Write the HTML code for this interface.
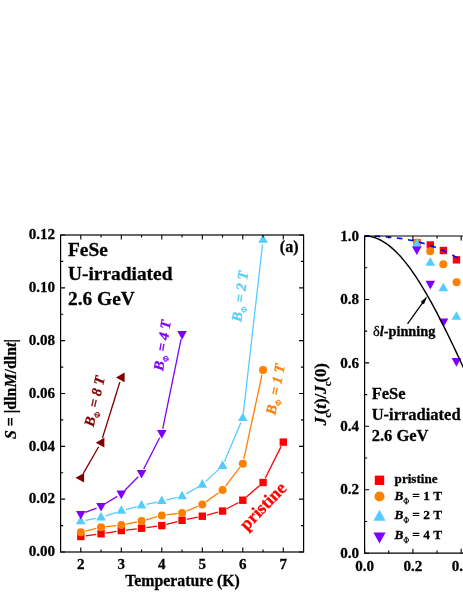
<!DOCTYPE html>
<html><head><meta charset="utf-8"><title>chart</title>
<style>html,body{margin:0;padding:0;background:#fff}svg{display:block;will-change:transform}text{stroke:currentColor;stroke-width:0.28px;paint-order:stroke}</style></head>
<body><svg width="463" height="599" viewBox="0 0 463 599" font-family="Liberation Serif, serif" font-weight="bold">
<rect width="463" height="599" fill="#fff"/>
<clipPath id="ca"><rect x="60.6" y="229.0" width="243.00000000000003" height="323.0"/></clipPath>
<g clip-path="url(#ca)">
<line x1="85.56" y1="535.85" x2="96.29" y2="534.41" stroke="#ff0000" stroke-width="1.3"/>
<line x1="105.79" y1="533.03" x2="116.56" y2="531.34" stroke="#ff0000" stroke-width="1.3"/>
<line x1="126.07" y1="530.04" x2="136.78" y2="528.78" stroke="#ff0000" stroke-width="1.3"/>
<line x1="146.31" y1="527.60" x2="157.04" y2="526.20" stroke="#ff0000" stroke-width="1.3"/>
<line x1="166.44" y1="524.37" x2="177.41" y2="521.51" stroke="#ff0000" stroke-width="1.3"/>
<line x1="186.75" y1="519.35" x2="197.60" y2="517.16" stroke="#ff0000" stroke-width="1.3"/>
<line x1="206.95" y1="515.02" x2="217.90" y2="512.24" stroke="#ff0000" stroke-width="1.3"/>
<line x1="226.78" y1="508.79" x2="238.57" y2="502.49" stroke="#ff0000" stroke-width="1.3"/>
<line x1="246.41" y1="497.06" x2="259.44" y2="485.68" stroke="#ff0000" stroke-width="1.3"/>
<line x1="265.20" y1="478.23" x2="281.15" y2="446.40" stroke="#ff0000" stroke-width="1.3"/>
<rect x="77.10" y="532.79" width="7.40" height="7.40" fill="#ff0000"/>
<rect x="97.35" y="530.07" width="7.40" height="7.40" fill="#ff0000"/>
<rect x="117.60" y="526.90" width="7.40" height="7.40" fill="#ff0000"/>
<rect x="137.85" y="524.52" width="7.40" height="7.40" fill="#ff0000"/>
<rect x="158.10" y="521.88" width="7.40" height="7.40" fill="#ff0000"/>
<rect x="178.35" y="516.60" width="7.40" height="7.40" fill="#ff0000"/>
<rect x="198.60" y="512.51" width="7.40" height="7.40" fill="#ff0000"/>
<rect x="218.85" y="507.35" width="7.40" height="7.40" fill="#ff0000"/>
<rect x="239.10" y="496.52" width="7.40" height="7.40" fill="#ff0000"/>
<rect x="259.35" y="478.82" width="7.40" height="7.40" fill="#ff0000"/>
<rect x="279.60" y="438.41" width="7.40" height="7.40" fill="#ff0000"/>
<line x1="85.46" y1="531.03" x2="96.39" y2="528.32" stroke="#ff8000" stroke-width="1.3"/>
<line x1="105.82" y1="526.67" x2="116.53" y2="525.55" stroke="#ff8000" stroke-width="1.3"/>
<line x1="126.01" y1="524.13" x2="136.84" y2="522.01" stroke="#ff8000" stroke-width="1.3"/>
<line x1="146.17" y1="519.80" x2="157.18" y2="516.71" stroke="#ff8000" stroke-width="1.3"/>
<line x1="166.56" y1="514.82" x2="177.29" y2="513.49" stroke="#ff8000" stroke-width="1.3"/>
<line x1="186.48" y1="511.05" x2="197.87" y2="506.30" stroke="#ff8000" stroke-width="1.3"/>
<line x1="206.20" y1="501.65" x2="218.65" y2="492.72" stroke="#ff8000" stroke-width="1.3"/>
<line x1="225.48" y1="486.12" x2="239.87" y2="467.44" stroke="#ff8000" stroke-width="1.3"/>
<line x1="243.81" y1="458.94" x2="262.04" y2="374.68" stroke="#ff8000" stroke-width="1.3"/>
<circle cx="80.80" cy="532.19" r="4.00" fill="#ff8000"/>
<circle cx="101.05" cy="527.17" r="4.00" fill="#ff8000"/>
<circle cx="121.30" cy="525.05" r="4.00" fill="#ff8000"/>
<circle cx="141.55" cy="521.09" r="4.00" fill="#ff8000"/>
<circle cx="161.80" cy="515.41" r="4.00" fill="#ff8000"/>
<circle cx="182.05" cy="512.90" r="4.00" fill="#ff8000"/>
<circle cx="202.30" cy="504.45" r="4.00" fill="#ff8000"/>
<circle cx="222.55" cy="489.92" r="4.00" fill="#ff8000"/>
<circle cx="242.80" cy="463.64" r="4.00" fill="#ff8000"/>
<circle cx="263.05" cy="369.99" r="4.00" fill="#ff8000"/>
<line x1="85.51" y1="520.43" x2="96.34" y2="518.32" stroke="#55ccff" stroke-width="1.3"/>
<line x1="105.61" y1="515.91" x2="116.74" y2="512.28" stroke="#55ccff" stroke-width="1.3"/>
<line x1="125.94" y1="509.58" x2="136.91" y2="506.72" stroke="#55ccff" stroke-width="1.3"/>
<line x1="146.24" y1="504.47" x2="157.11" y2="502.06" stroke="#55ccff" stroke-width="1.3"/>
<line x1="166.47" y1="499.92" x2="177.38" y2="497.36" stroke="#55ccff" stroke-width="1.3"/>
<line x1="186.21" y1="493.87" x2="198.14" y2="487.03" stroke="#55ccff" stroke-width="1.3"/>
<line x1="205.82" y1="481.38" x2="219.03" y2="469.14" stroke="#55ccff" stroke-width="1.3"/>
<line x1="224.42" y1="461.46" x2="240.93" y2="422.49" stroke="#55ccff" stroke-width="1.3"/>
<line x1="243.34" y1="413.30" x2="262.51" y2="244.52" stroke="#55ccff" stroke-width="1.3"/>
<path d="M76.00 524.36L85.60 524.36L80.80 515.76Z" fill="#55ccff"/>
<path d="M96.25 520.39L105.85 520.39L101.05 511.79Z" fill="#55ccff"/>
<path d="M116.50 513.79L126.10 513.79L121.30 505.19Z" fill="#55ccff"/>
<path d="M136.75 508.51L146.35 508.51L141.55 499.91Z" fill="#55ccff"/>
<path d="M157.00 504.02L166.60 504.02L161.80 495.42Z" fill="#55ccff"/>
<path d="M177.25 499.26L186.85 499.26L182.05 490.66Z" fill="#55ccff"/>
<path d="M197.50 487.64L207.10 487.64L202.30 479.04Z" fill="#55ccff"/>
<path d="M217.75 468.88L227.35 468.88L222.55 460.28Z" fill="#55ccff"/>
<path d="M238.00 421.07L247.60 421.07L242.80 412.47Z" fill="#55ccff"/>
<path d="M258.25 242.75L267.85 242.75L263.05 234.16Z" fill="#55ccff"/>
<line x1="85.27" y1="512.47" x2="96.58" y2="508.05" stroke="#8000ff" stroke-width="1.3"/>
<line x1="105.14" y1="503.79" x2="117.21" y2="496.39" stroke="#8000ff" stroke-width="1.3"/>
<line x1="124.66" y1="490.46" x2="138.19" y2="476.70" stroke="#8000ff" stroke-width="1.3"/>
<line x1="143.72" y1="469.00" x2="159.63" y2="437.67" stroke="#8000ff" stroke-width="1.3"/>
<line x1="162.76" y1="428.69" x2="181.09" y2="339.03" stroke="#8000ff" stroke-width="1.3"/>
<path d="M76.00 510.92L85.60 510.92L80.80 519.52Z" fill="#8000ff"/>
<path d="M96.25 503.00L105.85 503.00L101.05 511.60Z" fill="#8000ff"/>
<path d="M116.50 490.58L126.10 490.58L121.30 499.18Z" fill="#8000ff"/>
<path d="M136.75 469.98L146.35 469.98L141.55 478.58Z" fill="#8000ff"/>
<path d="M157.00 430.09L166.60 430.09L161.80 438.69Z" fill="#8000ff"/>
<path d="M177.25 331.03L186.85 331.03L182.05 339.63Z" fill="#8000ff"/>
<line x1="83.20" y1="473.61" x2="98.65" y2="446.79" stroke="#800000" stroke-width="1.3"/>
<line x1="102.47" y1="438.05" x2="119.88" y2="381.97" stroke="#800000" stroke-width="1.3"/>
<path d="M84.10 472.97L84.10 482.57L75.50 477.77Z" fill="#800000"/>
<path d="M104.35 437.83L104.35 447.44L95.75 442.63Z" fill="#800000"/>
<path d="M124.60 372.59L124.60 382.19L116.00 377.39Z" fill="#800000"/>
</g>
<rect x="60.6" y="235.0" width="243.00000000000003" height="317.0" fill="none" stroke="#000" stroke-width="1.2"/>
<path d="M60.6 552.00h4.5M303.6 552.00h-4.5M60.6 525.58h2.6M303.6 525.58h-2.6M60.6 499.17h4.5M303.6 499.17h-4.5M60.6 472.75h2.6M303.6 472.75h-2.6M60.6 446.33h4.5M303.6 446.33h-4.5M60.6 419.92h2.6M303.6 419.92h-2.6M60.6 393.50h4.5M303.6 393.50h-4.5M60.6 367.08h2.6M303.6 367.08h-2.6M60.6 340.67h4.5M303.6 340.67h-4.5M60.6 314.25h2.6M303.6 314.25h-2.6M60.6 287.83h4.5M303.6 287.83h-4.5M60.6 261.42h2.6M303.6 261.42h-2.6M60.6 235.00h4.5M303.6 235.00h-4.5M80.80 552.0v-4.5M80.80 235.0v4.5M101.05 552.0v-2.6M101.05 235.0v2.6M121.30 552.0v-4.5M121.30 235.0v4.5M141.55 552.0v-2.6M141.55 235.0v2.6M161.80 552.0v-4.5M161.80 235.0v4.5M182.05 552.0v-2.6M182.05 235.0v2.6M202.30 552.0v-4.5M202.30 235.0v4.5M222.55 552.0v-2.6M222.55 235.0v2.6M242.80 552.0v-4.5M242.80 235.0v4.5M263.05 552.0v-2.6M263.05 235.0v2.6M283.30 552.0v-4.5M283.30 235.0v4.5" stroke="#000" stroke-width="1.1" fill="none"/>
<text x="55.1" y="556.20" font-size="15.1" text-anchor="end">0.00</text>
<text x="55.1" y="503.37" font-size="15.1" text-anchor="end">0.02</text>
<text x="55.1" y="450.53" font-size="15.1" text-anchor="end">0.04</text>
<text x="55.1" y="397.70" font-size="15.1" text-anchor="end">0.06</text>
<text x="55.1" y="344.87" font-size="15.1" text-anchor="end">0.08</text>
<text x="55.1" y="292.03" font-size="15.1" text-anchor="end">0.10</text>
<text x="55.1" y="239.20" font-size="15.1" text-anchor="end">0.12</text>
<text x="80.80" y="568.6" font-size="15.1" text-anchor="middle">2</text>
<text x="121.30" y="568.6" font-size="15.1" text-anchor="middle">3</text>
<text x="161.80" y="568.6" font-size="15.1" text-anchor="middle">4</text>
<text x="202.30" y="568.6" font-size="15.1" text-anchor="middle">5</text>
<text x="242.80" y="568.6" font-size="15.1" text-anchor="middle">6</text>
<text x="283.30" y="568.6" font-size="15.1" text-anchor="middle">7</text>
<text x="182.5" y="585.6" font-size="15.8" text-anchor="middle">Temperature (K)</text>
<text transform="translate(15.6,389) rotate(-90)" font-size="15.9" text-anchor="middle"><tspan font-style="italic">S</tspan> = |dln<tspan font-style="italic">M</tspan>/dln<tspan font-style="italic">t</tspan>|</text>
<text x="68.0" y="255.7" font-size="19.4">FeSe</text>
<text x="68.0" y="280.3" font-size="19.4">U-irradiated</text>
<text x="68.0" y="304.9" font-size="19.4">2.6 GeV</text>
<text x="298.5" y="252" font-size="16" text-anchor="end">(a)</text>
<text transform="translate(99.2,402.3) rotate(-77)" font-size="14.5" font-style="italic" fill="#800000" color="#800000" text-anchor="middle">B<tspan font-size="8.4" dy="3.6" font-style="normal" font-weight="normal">Φ</tspan><tspan dy="-3.6"> = 8 T</tspan></text>
<text transform="translate(167.0,346.1) rotate(-81)" font-size="14.5" font-style="italic" fill="#8000ff" color="#8000ff" text-anchor="middle">B<tspan font-size="8.4" dy="3.6" font-style="normal" font-weight="normal">Φ</tspan><tspan dy="-3.6"> = 4 T</tspan></text>
<text transform="translate(244.8,296.9) rotate(-82)" font-size="14.5" font-style="italic" fill="#55ccff" color="#55ccff" text-anchor="middle">B<tspan font-size="8.4" dy="3.6" font-style="normal" font-weight="normal">Φ</tspan><tspan dy="-3.6"> = 2 T</tspan></text>
<text transform="translate(280.1,390.1) rotate(-79)" font-size="14.5" font-style="italic" fill="#ff8000" color="#ff8000" text-anchor="middle">B<tspan font-size="8.4" dy="3.6" font-style="normal" font-weight="normal">Φ</tspan><tspan dy="-3.6"> = 1 T</tspan></text>
<text transform="translate(267.1,510.1) rotate(-46)" font-size="17.9" fill="#ff0000" color="#ff0000" text-anchor="middle">pristine</text>
<clipPath id="cb"><rect x="364.6" y="234.0" width="98.39999999999998" height="319.20000000000005"/></clipPath>
<g clip-path="url(#cb)">
<rect x="413.30" y="239.00" width="7.40" height="7.40" fill="#ff0000"/>
<rect x="426.60" y="241.30" width="7.40" height="7.40" fill="#ff0000"/>
<rect x="439.70" y="246.80" width="7.40" height="7.40" fill="#ff0000"/>
<rect x="452.80" y="256.10" width="7.40" height="7.40" fill="#ff0000"/>
<circle cx="416.90" cy="242.60" r="4.00" fill="#ff8000"/>
<circle cx="430.20" cy="251.30" r="4.00" fill="#ff8000"/>
<circle cx="443.30" cy="264.30" r="4.00" fill="#ff8000"/>
<circle cx="456.60" cy="282.20" r="4.00" fill="#ff8000"/>
<path d="M412.00 247.10L421.60 247.10L416.80 238.50Z" fill="#55ccff"/>
<path d="M425.50 265.80L435.10 265.80L430.30 257.20Z" fill="#55ccff"/>
<path d="M438.50 291.30L448.10 291.30L443.30 282.70Z" fill="#55ccff"/>
<path d="M451.60 319.85L461.20 319.85L456.40 311.25Z" fill="#55ccff"/>
<path d="M412.00 246.50L421.60 246.50L416.80 255.10Z" fill="#8000ff"/>
<path d="M425.50 280.80L435.10 280.80L430.30 289.40Z" fill="#8000ff"/>
<path d="M438.70 318.50L448.30 318.50L443.50 327.10Z" fill="#8000ff"/>
<path d="M451.60 358.05L461.20 358.05L456.40 366.65Z" fill="#8000ff"/>
<path d="M364.60 236.00L365.81 236.02L367.02 236.10L368.22 236.21L369.43 236.38L370.64 236.59L371.85 236.86L373.05 237.16L374.26 237.52L375.47 237.92L376.68 238.37L377.88 238.87L379.09 239.41L380.30 240.00L381.50 240.64L382.71 241.32L383.92 242.04L385.13 242.82L386.34 243.64L387.54 244.50L388.75 245.41L389.96 246.36L391.17 247.35L392.37 248.39L393.58 249.48L394.79 250.60L396.00 251.77L397.20 252.98L398.41 254.23L399.62 255.52L400.83 256.86L402.03 258.23L403.24 259.65L404.45 261.10L405.66 262.59L406.86 264.12L408.07 265.69L409.28 267.30L410.49 268.94L411.69 270.62L412.90 272.34L414.11 274.09L415.31 275.87L416.52 277.69L417.73 279.54L418.94 281.43L420.15 283.35L421.35 285.29L422.56 287.27L423.77 289.28L424.98 291.32L426.18 293.39L427.39 295.49L428.60 297.61L429.81 299.76L431.01 301.94L432.22 304.14L433.43 306.37L434.63 308.62L435.84 310.90L437.05 313.19L438.26 315.51L439.47 317.85L440.67 320.21L441.88 322.59L443.09 324.99L444.30 327.41L445.50 329.85L446.71 332.30L447.92 334.76L449.12 337.25L450.33 339.74L451.54 342.26L452.75 344.78L453.96 347.31L455.16 349.86L456.37 352.42L457.58 354.99L458.79 357.56L459.99 360.15L461.20 362.74L462.41 365.34L463.62 367.94L464.82 370.55L466.03 373.17L467.24 375.79L468.45 378.41L469.65 381.03L470.86 383.66L472.07 386.28L473.28 388.91L474.48 391.53L475.69 394.15L476.90 396.78L478.11 399.39L479.31 402.01L480.52 404.62L481.73 407.22L482.94 409.82L484.14 412.41L485.35 414.99" stroke="#000" stroke-width="1.45" fill="none"/>
<path d="M364.60 236.00L364.95 236.00L366.35 236.01L367.75 236.02L369.15 236.04M374.65 236.18L376.05 236.24L377.45 236.30L378.85 236.37L380.25 236.45M385.75 236.83L387.15 236.94L388.55 237.07L389.95 237.20L391.35 237.34M396.85 237.98L398.25 238.17L399.65 238.36L401.05 238.56L402.45 238.78M407.95 239.72L409.35 239.98L410.75 240.26L412.15 240.55L413.55 240.84M419.05 242.14L420.45 242.50L421.85 242.88L423.25 243.26L424.65 243.67M430.15 245.39L431.55 245.86L432.95 246.36L434.35 246.86L435.75 247.39M441.25 249.62L442.65 250.23L444.05 250.87L445.45 251.52L446.85 252.19M452.35 255.02L453.75 255.80L455.15 256.60L456.55 257.42L457.95 258.26" stroke="#0000ff" stroke-width="1.6" fill="none"/>
</g>
<path d="M463 236.0H364.6V553.2H463" fill="none" stroke="#000" stroke-width="1.2"/>
<path d="M364.6 553.20h4.5M364.6 521.48h2.6M364.6 489.76h4.5M364.6 458.04h2.6M364.6 426.32h4.5M364.6 394.60h2.6M364.6 362.88h4.5M364.6 331.16h2.6M364.6 299.44h4.5M364.6 267.72h2.6M364.6 236.00h4.5M364.60 553.2v-4.5M364.60 236.0v4.5M388.75 553.2v-2.6M388.75 236.0v2.6M412.90 553.2v-4.5M412.90 236.0v4.5M437.05 553.2v-2.6M437.05 236.0v2.6M461.20 553.2v-4.5M461.20 236.0v4.5" stroke="#000" stroke-width="1.1" fill="none"/>
<text x="359.1" y="557.90" font-size="15.1" text-anchor="end">0.0</text>
<text x="359.1" y="494.46" font-size="15.1" text-anchor="end">0.2</text>
<text x="359.1" y="431.02" font-size="15.1" text-anchor="end">0.4</text>
<text x="359.1" y="367.58" font-size="15.1" text-anchor="end">0.6</text>
<text x="359.1" y="304.14" font-size="15.1" text-anchor="end">0.8</text>
<text x="359.1" y="240.70" font-size="15.1" text-anchor="end">1.0</text>
<text x="364.60" y="571.1" font-size="15.1" text-anchor="middle">0.0</text>
<text x="412.90" y="571.1" font-size="15.1" text-anchor="middle">0.2</text>
<text x="461.20" y="571.1" font-size="15.1" text-anchor="middle">0.4</text>
<text transform="translate(326.3,394.4) rotate(-90)" font-size="17" letter-spacing="-0.15" text-anchor="middle" font-style="italic">J<tspan font-size="10.5" dy="4.3" dx="-0.5" font-style="normal">c</tspan><tspan dy="-4.3" dx="-1" font-style="normal">(</tspan>t<tspan font-style="normal">)/</tspan>J<tspan font-size="10.5" dy="4.3" dx="-0.5" font-style="normal">c</tspan><tspan dy="-4.3" dx="-1" font-style="normal">(0)</tspan></text>
<text x="371.7" y="399.0" font-size="16.5">FeSe</text>
<text x="371.7" y="420.2" font-size="16.5">U-irradiated</text>
<text x="371.7" y="440.6" font-size="16.5">2.6 GeV</text>
<text x="373.0" y="335.7" font-size="14.3"><tspan font-weight="normal">δ</tspan><tspan font-style="italic">l</tspan>-pinning</text>
<path d="M407.5 323.9L424 300.8" stroke="#000" stroke-width="1.25" fill="none"/>
<path d="M427.3 296.2L423.95 304.3L420.65 302.0Z" fill="#000"/>
<rect x="374.80" y="475.60" width="9.40" height="9.40" fill="#ff0000"/>
<text x="394.6" y="483.2" font-size="13.1">pristine</text>
<circle cx="379.50" cy="496.50" r="5.08" fill="#ff8000"/>
<text x="394.6" y="500.0" font-size="13.3"><tspan font-style="italic">B</tspan><tspan font-size="7.6" dy="4" font-weight="normal">Φ</tspan><tspan dy="-4"> = 1 T</tspan></text>
<path d="M373.40 520.71L385.60 520.71L379.50 509.79Z" fill="#55ccff"/>
<text x="394.6" y="519.0" font-size="13.3"><tspan font-style="italic">B</tspan><tspan font-size="7.6" dy="4" font-weight="normal">Φ</tspan><tspan dy="-4"> = 2 T</tspan></text>
<path d="M373.40 532.56L385.60 532.56L379.50 543.48Z" fill="#8000ff"/>
<text x="394.6" y="539.3" font-size="13.3"><tspan font-style="italic">B</tspan><tspan font-size="7.6" dy="4" font-weight="normal">Φ</tspan><tspan dy="-4"> = 4 T</tspan></text>
</svg></body></html>
